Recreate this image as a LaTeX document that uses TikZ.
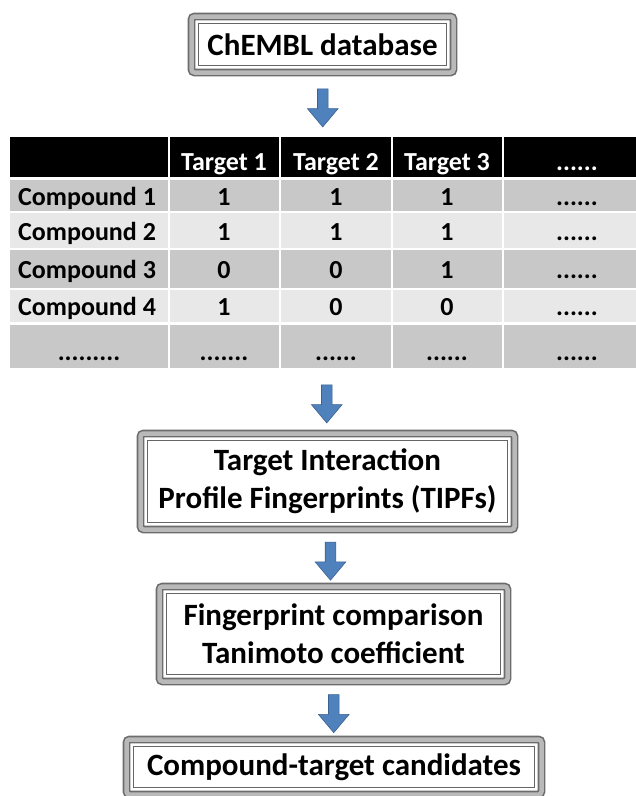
\documentclass[tikz,border=0pt]{standalone}
\usepackage{fontspec}
\setmainfont{Carlito}
\usetikzlibrary{calc,positioning,shapes.arrows}
\definecolor{arrowblue}{HTML}{4F81BD}
\definecolor{rowdark}{HTML}{C8C8C8}
\definecolor{rowlight}{HTML}{E8E8E8}
\newcommand{\dotssix}{......}
\newcommand{\dotsseven}{.......}
\newcommand{\dotsnine}{.........}

\tikzset{
  stepframe/.style={draw=gray!85!black, line width=1.6pt, double=gray!55, double distance=4.5pt,
    rounded corners=3pt, fill=white, align=center, inner sep=0pt, outer sep=0pt,
    font=\bfseries\fontsize{31}{38}\selectfont},
  innerframe/.style={draw=gray!80!black, line width=1.2pt},
  downarrow/.style={single arrow, rotate=-90, fill=arrowblue, draw=arrowblue!75!black,
    line width=0.6pt, inner sep=5pt, single arrow head extend=10pt,
    single arrow tip angle=80, minimum height=38pt, outer sep=0pt},
  celltext/.style={font=\bfseries\fontsize{26}{30}\selectfont, anchor=base, inner sep=0pt},
}

\begin{document}
\begin{tikzpicture}[x=1pt,y=1pt]
  \useasboundingbox[fill=white] (0,0) rectangle (636,-796);

  % Boxes of the work flow
  \node[stepframe, minimum width=262pt, minimum height=56pt] (chembl) at (322.5,-44.5) {ChEMBL database};
  \node[stepframe, minimum width=374pt, minimum height=96pt] (tipf) at (327.5,-481.5)
    {Target Interaction\\Profile Fingerprints (TIPFs)};
  \node[stepframe, minimum width=348pt, minimum height=95pt] (tanimoto) at (333.5,-634)
    {Fingerprint comparison\\Tanimoto coefficient};
  \node[stepframe, minimum width=415pt, minimum height=55pt] (cand) at (334,-767)
    {Compound-target candidates};
  \foreach \n in {chembl,tipf,tanimoto,cand}
    \draw[innerframe] ([shift={(7,7)}]\n.south west) rectangle ([shift={(-7,-7)}]\n.north east);

  % Table: header row and body rows
  \foreach \l/\r in {10/168,170/279,281/391,393/502,504/636}
    \fill[black] (\l,-137) rectangle (\r,-177);
  \foreach \t/\b/\c in {180/211/rowdark,213/248/rowlight,250/288/rowdark,290/322/rowlight,325/368/rowdark}
    \foreach \l/\r in {10/168,170/279,281/391,393/502,504/636}
      \fill[\c] (\l,-\t) rectangle (\r,-\b);
  \coordinate (tbltop) at (323,-137);
  \coordinate (tblbot) at (326,-368);

  \foreach \x/\txt [count=\i] in {224/Target 1,336/Target 2,447/Target 3,577/\dotssix}
    \node[celltext, text=white] (head\i) at (\x,-170) {\txt};
  \foreach \y/\name/\a/\b/\c [count=\i] in {
    205/Compound 1/1/1/1,
    240/Compound 2/1/1/1,
    278/Compound 3/0/0/1,
    315/Compound 4/1/0/0%
  } {
    \node[celltext, anchor=base west] (cmp\i) at (18,-\y) {\name};
    \node[celltext] (val\i-1) at (224,-\y) {\a};
    \node[celltext] (val\i-2) at (336,-\y) {\b};
    \node[celltext] (val\i-3) at (447,-\y) {\c};
    \node[celltext] (val\i-4) at (577,-\y) {\dotssix};
  }
  \foreach \x/\txt [count=\i] in {89/\dotsnine,224/\dotsseven,336/\dotssix,447/\dotssix,577/\dotssix}
    \node[celltext] (more\i) at (\x,-360) {\txt};

  % Block arrows between the steps
  \node[downarrow] (arr1) at ($(chembl.south)!0.5!(tbltop)$) {};
  \node[downarrow] (arr2) at ($(tblbot)!0.5!(tipf.north)$) {};
  \node[downarrow] (arr3) at ($(tipf.south)!0.5!(tanimoto.north)$) {};
  \node[downarrow] (arr4) at ($(tanimoto.south)!0.5!(cand.north)$) {};
\end{tikzpicture}
\end{document}
